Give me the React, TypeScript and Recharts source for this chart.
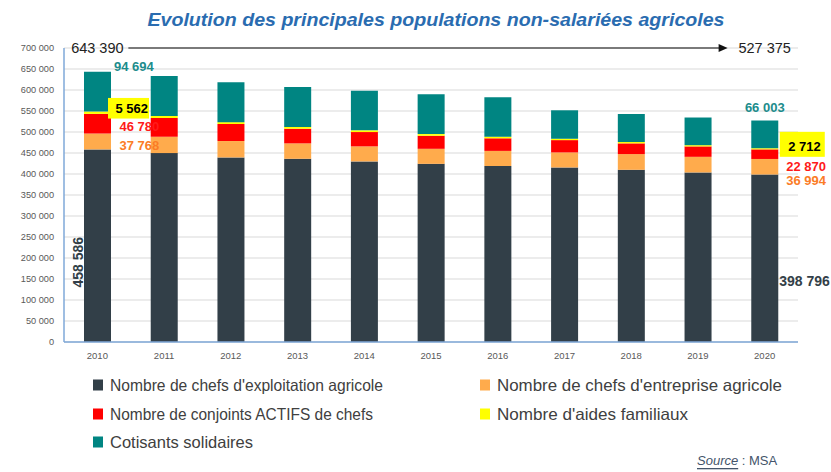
import React from 'react';
import { BarChart, Bar, XAxis, YAxis, CartesianGrid, ReferenceLine, LabelList } from 'recharts';

const years = ['2010', '2011', '2012', '2013', '2014', '2015', '2016', '2017', '2018', '2019', '2020'];
const chefsExploitation = [458586, 449800, 439500, 436200, 430000, 424200, 419000, 415600, 410000, 403700, 398796];
const chefsEntreprise = [37768, 38900, 39000, 36700, 35800, 35800, 36000, 35800, 37400, 37200, 36994];
const conjointsActifs = [46780, 44600, 40500, 34900, 34100, 31000, 30000, 29300, 25500, 24800, 22870];
const aidesFamiliaux = [5562, 5000, 4500, 4300, 4000, 4000, 3800, 3200, 3200, 2900, 2712];
const cotisantsSolidaires = [94694, 95000, 95000, 95000, 94500, 95000, 94000, 67800, 66800, 65900, 66003];
const yTicks = [0, 50000, 100000, 150000, 200000, 250000, 300000, 350000, 400000, 450000, 500000, 550000, 600000, 650000, 700000];

const COLORS = {
  chefs: '#323f48',
  entreprise: '#ffab4c',
  conjoints: '#ff0000',
  aides: '#ffff00',
  cotisants: '#008582',
};

const seriesNames = {
  chefs: "Nombre de chefs d'exploitation agricole",
  entreprise: "Nombre de chefs d'entreprise agricole",
  conjoints: 'Nombre de conjoints ACTIFS de chefs',
  aides: "Nombre d'aides familiaux",
  cotisants: 'Cotisants solidaires',
};

const data = years.map((year, i) => ({
  year,
  chefs: chefsExploitation[i],
  entreprise: chefsEntreprise[i],
  conjoints: conjointsActifs[i],
  aides: aidesFamiliaux[i],
  cotisants: cotisantsSolidaires[i],
}));

const totals = years.map(
  (_, i) => chefsExploitation[i] + chefsEntreprise[i] + conjointsActifs[i] + aidesFamiliaux[i] + cotisantsSolidaires[i]
);

const last = years.length - 1;
const fmt = (v: number) => String(Math.round(v)).replace(/\B(?=(\d{3})+(?!\d))/g, ' ');
const FONT = "'Liberation Sans', Arial, sans-serif";

const num = (v: any) => Number(v);

const darkLabel = (p: any) => {
  const x = num(p.x), y = num(p.y), w = num(p.width), h = num(p.height);
  if (p.index === 0) {
    const cx = x - 6, cy = y + h * 0.586;
    return (
      <text x={cx} y={cy} transform={`rotate(-90 ${cx} ${cy})`} textAnchor="middle" dominantBaseline="central"
        fill="#333f48" fontWeight="bold" fontSize={14} fontFamily={FONT}>{fmt(chefsExploitation[0])}</text>
    );
  }
  if (p.index === last) {
    return (
      <text x={x + w + 1} y={y + h * 0.636} dominantBaseline="central" fill="#333f48" fontWeight="bold" fontSize={14}
        fontFamily={FONT}>{fmt(chefsExploitation[last])}</text>
    );
  }
  return null;
};

const orangeLabel = (p: any) => {
  const x = num(p.x), y = num(p.y), w = num(p.width);
  if (p.index === 0 || p.index === last) {
    const dy = p.index === 0 ? 11.5 : 21.9;
    const dx = p.index === 0 ? 8.5 : 8;
    return (
      <text x={x + w + dx} y={y + dy} dominantBaseline="central" fill="#fb7c26" fontWeight="bold" fontSize={13}
        fontFamily={FONT}>{fmt(chefsEntreprise[p.index])}</text>
    );
  }
  return null;
};

const redLabel = (p: any) => {
  const x = num(p.x), y = num(p.y), w = num(p.width);
  if (p.index === 0 || p.index === last) {
    const dy = p.index === 0 ? 12.9 : 16.7;
    const dx = p.index === 0 ? 8.5 : 8;
    return (
      <text x={x + w + dx} y={y + dy} dominantBaseline="central" fill="#ff1a1a" fontWeight="bold" fontSize={13}
        fontFamily={FONT}>{fmt(conjointsActifs[p.index])}</text>
    );
  }
  return null;
};

const yellowLabel = (p: any) => {
  const x = num(p.x), y = num(p.y), w = num(p.width);
  if (p.index === 0) {
    return (
      <g>
        <rect x={x + w - 3} y={y - 13.6} width={41} height={20.6} fill="#ffff00" />
        <text x={x + w + 37} y={y - 3.3} textAnchor="end" dominantBaseline="central" fill="#000" fontWeight="bold"
          fontSize={13} fontFamily={FONT}>{fmt(aidesFamiliaux[0])}</text>
      </g>
    );
  }
  if (p.index === last) {
    return (
      <g>
        <rect x={x + w + 1.5} y={y - 16.4} width={45} height={25} fill="#ffff00" />
        <text x={x + w + 42.5} y={y - 2} textAnchor="end" dominantBaseline="central" fill="#000" fontWeight="bold"
          fontSize={13} fontFamily={FONT}>{fmt(aidesFamiliaux[last])}</text>
      </g>
    );
  }
  return null;
};

const tealLabel = (p: any) => {
  const x = num(p.x), y = num(p.y), w = num(p.width);
  if (p.index === 0) {
    return (
      <text x={x + w + 3} y={y - 5} dominantBaseline="central" fill="#1c8c8c" fontWeight="bold" fontSize={13}
        fontFamily={FONT}>{fmt(cotisantsSolidaires[0])}</text>
    );
  }
  if (p.index === last) {
    return (
      <text x={x + w / 2} y={y - 13} textAnchor="middle" dominantBaseline="central" fill="#1c8c8c" fontWeight="bold"
        fontSize={13} fontFamily={FONT}>{fmt(cotisantsSolidaires[last])}</text>
    );
  }
  return null;
};

const totalArrow = (p: any) => {
  const x1 = num(p.x1), y1 = num(p.y1), x2 = num(p.x2);
  if (!isFinite(x1) || !isFinite(x2)) return <g />;
  const y = y1;
  const lx1 = x1 + 31;
  const lx2 = x2 - 37;
  return (
    <g>
      <text x={x1} y={y} textAnchor="middle" dominantBaseline="central" fontSize={14.5} fill="#222" fontFamily={FONT}>
        {fmt(totals[0])}
      </text>
      <line x1={lx1} y1={y} x2={lx2 - 7} y2={y} stroke="#555" strokeWidth={1.3} />
      <path d={`M${lx2},${y} L${lx2 - 9},${y - 4} L${lx2 - 9},${y + 4} Z`} fill="#111" />
      <text x={x2} y={y} textAnchor="middle" dominantBaseline="central" fontSize={14.5} fill="#222" fontFamily={FONT}>
        {fmt(totals[last])}
      </text>
    </g>
  );
};

const legendItems: { key: keyof typeof COLORS; x: number; y: number; len: number }[] = [
  { key: 'chefs', x: 93, y: 385, len: 273 },
  { key: 'entreprise', x: 480, y: 385, len: 285 },
  { key: 'conjoints', x: 93, y: 414, len: 263 },
  { key: 'aides', x: 480, y: 414, len: 191 },
  { key: 'cotisants', x: 93, y: 442, len: 143 },
];

export default function App() {
  return (
    <div style={{ position: 'absolute', left: 0, top: 0, width: 831, height: 472, background: '#fff', fontFamily: FONT }}>
      <div style={{ position: 'absolute', left: 0, top: 0 }}>
        <BarChart width={831} height={472} data={data} margin={{ top: 48, right: 33, bottom: 100, left: 8 }}>
          <CartesianGrid vertical={false} stroke="#d9d9d9" strokeWidth={1} />
          <XAxis dataKey="year" height={30} tickLine={false} axisLine={{ stroke: '#7fa9d9', strokeWidth: 1.5 }}
            tick={{ fontSize: 9.5, fill: '#595959' }} tickMargin={4} interval={0} />
          <YAxis width={56} domain={[0, 700000]} ticks={yTicks} tickFormatter={fmt} tickLine={false}
            axisLine={{ stroke: '#7fa9d9', strokeWidth: 1.5 }} tick={{ fontSize: 9.2, fill: '#595959' }} tickMargin={4}
            interval={0} />
          <Bar dataKey="chefs" name={seriesNames.chefs} stackId="a" fill={COLORS.chefs} barSize={27} isAnimationActive={false}>
            <LabelList content={darkLabel} />
          </Bar>
          <Bar dataKey="entreprise" name={seriesNames.entreprise} stackId="a" fill={COLORS.entreprise} barSize={27} isAnimationActive={false}>
            <LabelList content={orangeLabel} />
          </Bar>
          <Bar dataKey="conjoints" name={seriesNames.conjoints} stackId="a" fill={COLORS.conjoints} barSize={27} isAnimationActive={false}>
            <LabelList content={redLabel} />
          </Bar>
          <Bar dataKey="aides" name={seriesNames.aides} stackId="a" fill={COLORS.aides} barSize={27} isAnimationActive={false}>
            <LabelList content={yellowLabel} />
          </Bar>
          <Bar dataKey="cotisants" name={seriesNames.cotisants} stackId="a" fill={COLORS.cotisants} barSize={27} isAnimationActive={false}>
            <LabelList content={tealLabel} />
          </Bar>
          <ReferenceLine segment={[{ x: years[0], y: 700000 }, { x: years[last], y: 700000 }]} shape={totalArrow}
            ifOverflow="visible" />
        </BarChart>
      </div>
      <svg width={831} height={472} style={{ position: 'absolute', left: 0, top: 0, pointerEvents: 'none' }}>
        <text x={436} y={20} textAnchor="middle" dominantBaseline="central" fontSize={18} fontWeight="bold"
          fontStyle="italic" fill="#2a6cb0" fontFamily={FONT} textLength={577} lengthAdjust="spacingAndGlyphs">
          Evolution des principales populations non-salariées agricoles
        </text>
        {legendItems.map((it) => (
          <g key={it.key}>
            <rect x={it.x} y={it.y - 5.5} width={10} height={11} fill={COLORS[it.key]} />
            <text x={it.x + 17} y={it.y} dominantBaseline="central" fontSize={16.5} fill="#404040" fontFamily={FONT}
              textLength={it.len} lengthAdjust="spacingAndGlyphs">
              {seriesNames[it.key]}
            </text>
          </g>
        ))}
        <text x={697} y={460} dominantBaseline="central" fontSize={13} fill="#44546a" fontFamily={FONT}>
          <tspan fontStyle="italic" textDecoration="underline">Source</tspan>
          <tspan> : MSA</tspan>
        </text>
      </svg>
    </div>
  );
}
